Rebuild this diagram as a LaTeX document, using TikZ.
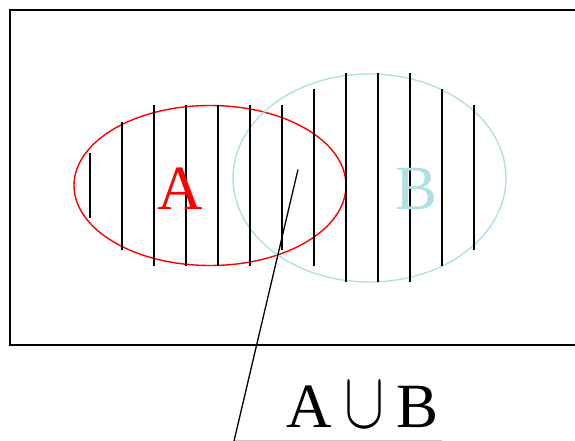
\documentclass[tikz,border=0pt]{standalone}
\usepackage{fontspec}
\setmainfont{Liberation Serif}
\definecolor{setB}{RGB}{176,224,230}
\definecolor{uline}{RGB}{200,200,200}
\tikzset{
  hatch/.style={line width=2pt, black},
  frame/.style={line width=1.5pt, black},
  setA/.style={draw=red, line width=1.4pt},
  setBst/.style={draw=setB, line width=1.4pt},
  biglabel/.style={inner sep=0pt, anchor=base, font=\fontsize{63}{63}\selectfont},
  pointer/.style={line width=1.3pt, black}
}
\newcommand{\bigcupsym}{\scalebox{6}[8]{\fontsize{10}{12}\selectfont$\cup$}}
\begin{document}
\begin{tikzpicture}[x=1pt,y=-1pt]
\useasboundingbox (0,0) rectangle (575,441);
% frame (right side beyond the picture)
\draw[frame] (576,10) -- (10,10) -- (10,345) -- (576,345);
% ellipses
\draw[setA] (210,185.5) ellipse [x radius=136, y radius=80];
\draw[setBst] (369.5,178) ellipse [x radius=136.5, y radius=104];
% hatching
\foreach \x/\a/\b in {90/153/218, 122/122/250, 154/105/266, 186/105/266, 218/105/266, 250/105/266, 282/105/250,
                      314/89/266, 346/73/282, 378/73/282, 410/73/282, 442/89/266, 474/105/250}
  \draw[hatch] (\x,\a) -- (\x,\b);
% labels
\node[biglabel, text=red] (labA) at (180.5,209) {A};
\node[biglabel, text=setB] (labB) at (416.5,209) {B};
\node[biglabel, font=\fontsize{63}{63}\selectfont, anchor=base west] (labU) at (286,427) {A\hspace{13pt}\bigcupsym\hspace{11.5pt}B};
% pointer
\coordinate (p) at (298,169.5);
\coordinate (q) at (234,441);
\coordinate (r) at (442,440);
\draw[uline, line width=1pt] (235,440) -- (r);
\draw[pointer] (p) -- (q);
\end{tikzpicture}
\end{document}
